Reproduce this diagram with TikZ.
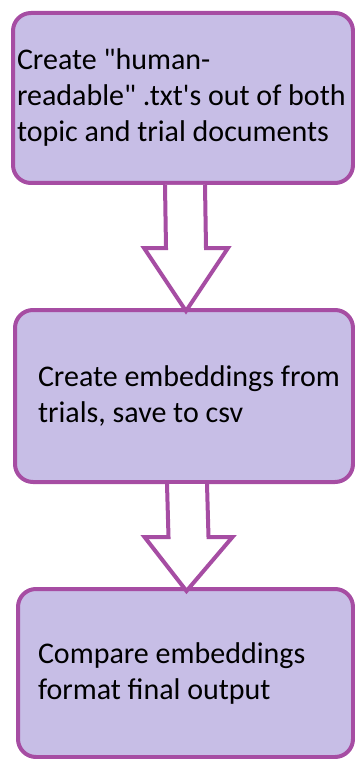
\documentclass[tikz,border=0pt]{standalone}
\usepackage{fontspec}
\setmainfont{Carlito}[Ligatures=TeXOff]
\usetikzlibrary{calc}

\definecolor{boxfill}{RGB}{199,190,230}
\definecolor{boxline}{RGB}{166,77,163}

\tikzset{
  stepbox/.style={draw=boxline, fill=boxfill, line width=4pt, rounded corners=18pt,
    align=flush left, font=\fontsize{30}{36}\selectfont, inner ysep=0pt},
  flowarrow/.style={draw=boxline, fill=white, line width=4pt, line join=miter}
}

\begin{document}
\begin{tikzpicture}[x=1pt,y=1pt]
    \useasboundingbox (0,0) rectangle (354,-759);

    \node [stepbox, minimum width=340, minimum height=170, text width=332, inner xsep=4] (box1) at (183,-98)
        {\mbox{Create "human-}\\\mbox{readable" .txt's out of both}\\\mbox{topic and trial documents}};
    \node [stepbox, minimum width=338, minimum height=172, text width=292, inner xsep=23] (box2) at (184,-396)
        {\mbox{Create embeddings from}\\\mbox{trials, save to csv}};
    \node [stepbox, minimum width=335, minimum height=168, text width=295, inner xsep=20] (box3) at (185.5,-673)
        {\mbox{Compare embeddings}\\\mbox{format final output}};

    % hollow arrows between the steps
    \draw [flowarrow] ($(box1.south)+(-18,0)$) -- ($(box2.north)+(-18,60)$) -- ($(box2.north)+(-40,60)$)
        -- ($(box2.north)+(2,-3)$) -- ($(box2.north)+(44,60)$) -- ($(box2.north)+(22,60)$)
        -- ($(box1.south)+(22,0)$);
    \draw [flowarrow] ($(box2.south)+(-17,0)$) -- ($(box3.north)+(-17,50)$) -- ($(box3.north)+(-41,50)$)
        -- ($(box3.north)+(1,-4)$) -- ($(box3.north)+(47,50)$) -- ($(box3.north)+(23,50)$)
        -- ($(box2.south)+(23,0)$);
\end{tikzpicture}
\end{document}
